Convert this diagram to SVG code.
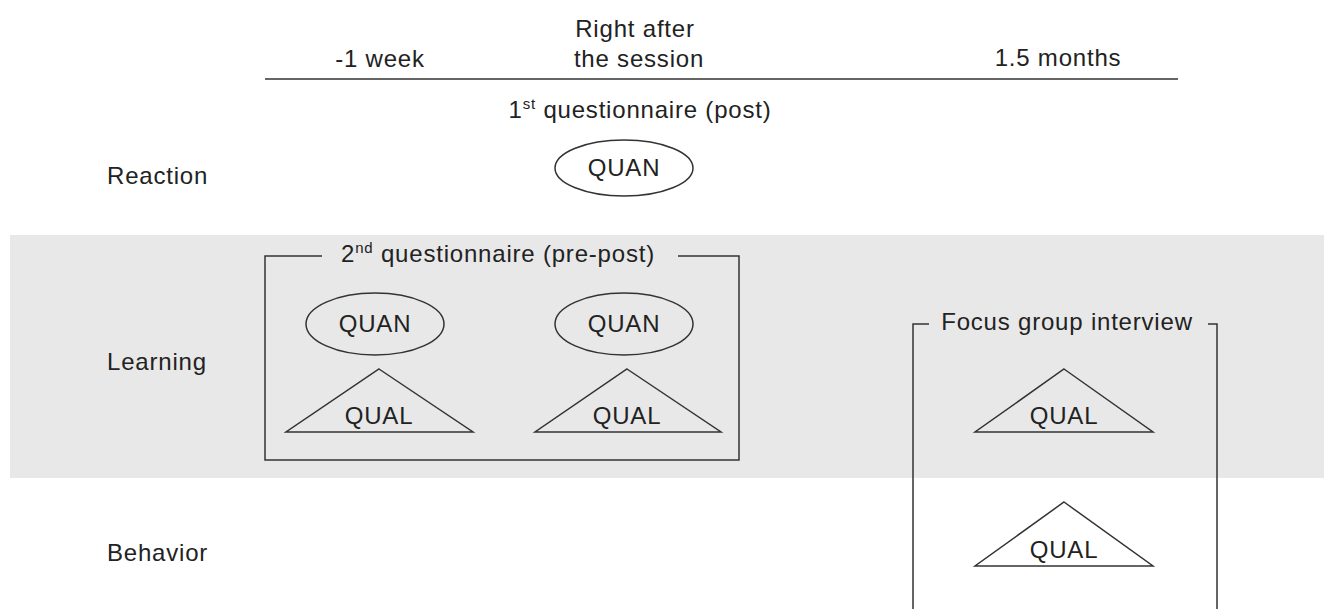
<svg xmlns="http://www.w3.org/2000/svg" width="1324" height="609" viewBox="0 0 1324 609">
<style>
text{font-family:"Liberation Sans",Arial,sans-serif;font-size:24px;fill:#222;letter-spacing:0.8px}
.c{text-anchor:middle}
.s{fill:#fff;stroke:#333;stroke-width:1.5}
.g{fill:#e8e8e8;stroke:#333;stroke-width:1.5}
.ln{fill:none;stroke:#333;stroke-width:1.5}
</style>
<rect width="1324" height="609" fill="#fff"/>
<rect x="10" y="235" width="1314" height="243" fill="#e8e8e8"/>
<g id="timeline">
<line class="ln" x1="265" y1="79" x2="1178" y2="79"/>
<text class="c" x="380" y="67">-1 week</text>
<text class="c" x="635" y="37">Right after</text>
<text class="c" x="639" y="67">the session</text>
<text class="c" x="1058" y="66">1.5 months</text>
</g>
<g id="rows">
<text x="107" y="184">Reaction</text>
<text x="107" y="370">Learning</text>
<text x="107" y="561">Behavior</text>
</g>
<g id="q1">
<text class="c" x="640" y="118">1<tspan font-size="15" dy="-9">st</tspan><tspan dy="9"> questionnaire (post)</tspan></text>
<ellipse class="s" cx="624" cy="168" rx="69" ry="28"/>
<text class="c" x="624" y="176">QUAN</text>
</g>
<g id="q2">
<path class="ln" d="M322 256 H265 V460 H739 V256 H678"/>
<text class="c" x="498" y="262">2<tspan font-size="15" dy="-9">nd</tspan><tspan dy="9"> questionnaire (pre-post)</tspan></text>
<ellipse class="g" cx="375" cy="324" rx="69" ry="31"/>
<text class="c" x="375" y="332">QUAN</text>
<ellipse class="g" cx="624" cy="324" rx="69" ry="31"/>
<text class="c" x="624" y="332">QUAN</text>
<polygon class="g" points="379,369 473,432 286,432"/>
<text class="c" x="379" y="424">QUAL</text>
<polygon class="g" points="627,369 721,432 535,432"/>
<text class="c" x="627" y="424">QUAL</text>
</g>
<g id="fgi">
<path class="ln" d="M929 324 H913 V609 M1217 609 V324 H1208"/>
<text class="c" x="1067" y="330">Focus group interview</text>
<polygon class="g" points="1064,369 1153,432 975,432"/>
<text class="c" x="1064" y="424">QUAL</text>
<polygon class="s" points="1064,502 1153,566 975,566"/>
<text class="c" x="1064" y="558">QUAL</text>
</g>
<g id="connectors"></g>
</svg>
